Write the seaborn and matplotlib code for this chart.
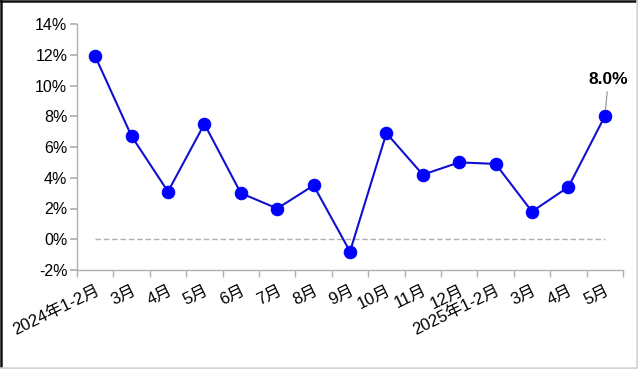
import matplotlib
matplotlib.use("Agg")
import matplotlib.pyplot as plt
import seaborn as sns
import pandas as pd
from matplotlib.lines import Line2D

categories = ["2024年1-2月", "3月", "4月", "5月", "6月", "7月", "8月", "9月",
              "10月", "11月", "12月", "2025年1-2月", "3月", "4月", "5月"]
values = [11.9, 6.7, 3.1, 7.5, 3.0, 2.0, 3.5, -0.8, 6.9, 4.2, 5.0, 4.9, 1.8, 3.4, 8.0]
yticks = [-2, 0, 2, 4, 6, 8, 10, 12, 14]

sns.set_theme(style="white")
plt.rcParams['font.family'] = ['Liberation Sans', 'Noto Sans CJK SC']
plt.rcParams['text.color'] = 'black'
plt.rcParams['xtick.color'] = 'black'
plt.rcParams['ytick.color'] = 'black'

df = pd.DataFrame({"pos": range(len(values)), "val": values})

fig = plt.figure(figsize=(6.38, 3.69), dpi=100)
ax = fig.add_axes([77/638, 1-270/369, (623-77)/638, (270-24)/369])

sns.lineplot(data=df, x="pos", y="val", ax=ax, color="#1010d0", linewidth=1.5,
             marker="o", markersize=9, markerfacecolor="#0000ff",
             markeredgecolor="#0000ff", sort=False)

ax.plot([0, len(values)-1], [0, 0], color="#b0b0b0", linestyle=(0, (4, 2)), linewidth=1, zorder=1)

ax.set_xlim(-0.5, len(values)-0.5)
ax.set_ylim(-2, 14)
ax.set_yticks(yticks)
ax.set_yticklabels([f"{v}%" for v in yticks], fontsize=11.5, color="black")
ax.set_xticks(range(len(categories)))
ax.set_xticklabels(categories, fontsize=12, rotation=26, ha="right", rotation_mode="anchor", color="black")
ax.set_xticks([i - 0.5 for i in range(len(categories)+1)], minor=True)
ax.tick_params(axis="x", which="major", length=0, pad=9)
ax.tick_params(axis="x", which="minor", length=5, color="#b0b0b0", bottom=True)
ax.tick_params(axis="y", length=5, color="#b0b0b0", left=True, pad=2)
ax.set_xlabel("")
ax.set_ylabel("")
for s in ["top", "right"]:
    ax.spines[s].set_visible(False)
for s in ["left", "bottom"]:
    ax.spines[s].set_color("#b0b0b0")
    ax.spines[s].set_linewidth(1)

last = len(values) - 1
ax.annotate(f"{values[-1]:.1f}%", xy=(last, values[-1]), xytext=(last + 0.1, values[-1] + 1.9),
            ha="center", va="bottom", fontsize=12.5, fontweight="bold", color="black",
            arrowprops=dict(arrowstyle="-", color="#909090", lw=0.8, shrinkA=1, shrinkB=5))

# outer frame: dark top/left, light right/bottom
fig.add_artist(Line2D([0.001, 0.001], [0, 1], transform=fig.transFigure, color="#111111", lw=1.8))
fig.add_artist(Line2D([0, 1], [0.997, 0.997], transform=fig.transFigure, color="#111111", lw=1.8))
fig.add_artist(Line2D([0.998, 0.998], [0, 1], transform=fig.transFigure, color="#d4d4d4", lw=1.8))
fig.add_artist(Line2D([0, 1], [0.003, 0.003], transform=fig.transFigure, color="#d4d4d4", lw=1.8))

fig.savefig("out.png", dpi=100)
